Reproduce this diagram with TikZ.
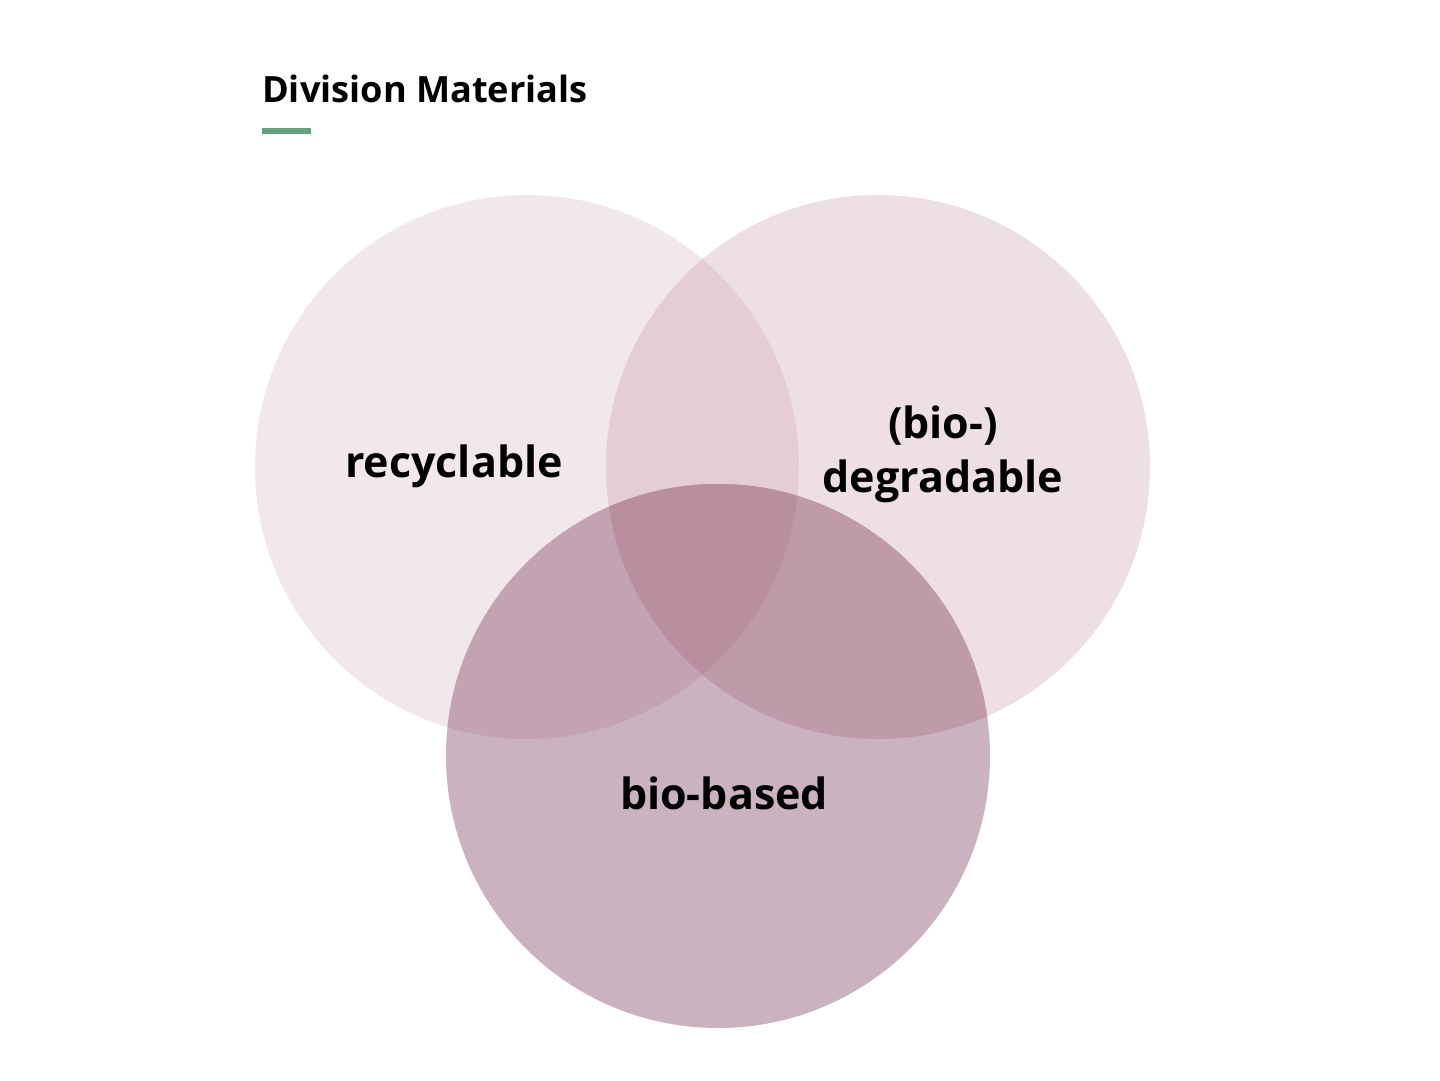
\documentclass[tikz,border=0pt]{standalone}
\usepackage{fontspec}
\setmainfont{Open Sans}
\definecolor{cL}{HTML}{F2E7EB}
\definecolor{cR}{HTML}{EEDFE4}
\definecolor{cB}{HTML}{CAB2C1}
\definecolor{cLR}{HTML}{E5CDD5}
\definecolor{cLB}{HTML}{C3A3B1}
\definecolor{cRB}{HTML}{BF9BAA}
\definecolor{cAll}{HTML}{B98FA0}
\definecolor{accent}{HTML}{63A080}
\begin{document}
\begin{tikzpicture}[x=1pt,y=-1pt,
  lbl/.style={font=\fontsize{43}{52}\selectfont\bfseries, text=black, inner sep=0pt, anchor=base},
  ttl/.style={font=\fontsize{36.2}{44}\selectfont\bfseries, text=black, inner sep=0pt, anchor=base west}]
\useasboundingbox (0,0) rectangle (1440,1080);
\fill[white] (0,0) rectangle (1440,1080);
\def\cL{(527,467) circle (272)}
\def\cR{(878,467) circle (272)}
\def\cB{(718,756) circle (272)}
\fill[cL] \cL;
\fill[cR] \cR;
\fill[cB] \cB;
\begin{scope}\clip \cL; \fill[cLR] \cR; \end{scope}
\begin{scope}\clip \cL; \fill[cLB] \cB; \end{scope}
\begin{scope}\clip \cR; \fill[cRB] \cB; \end{scope}
\begin{scope}\clip \cL; \clip \cR; \fill[cAll] \cB; \end{scope}
\node[ttl] (title) at (262,102) {Division Materials};
\fill[accent] (262,128) rectangle (311,134);
\node[lbl] (rec) at (454,477) {recyclable};
\node[lbl] (bio) at (943,438) {(bio-)};
\node[lbl] (deg) at (943,492) {degradable};
\node[lbl] (bb) at (724,809) {bio-based};
\end{tikzpicture}
\end{document}
